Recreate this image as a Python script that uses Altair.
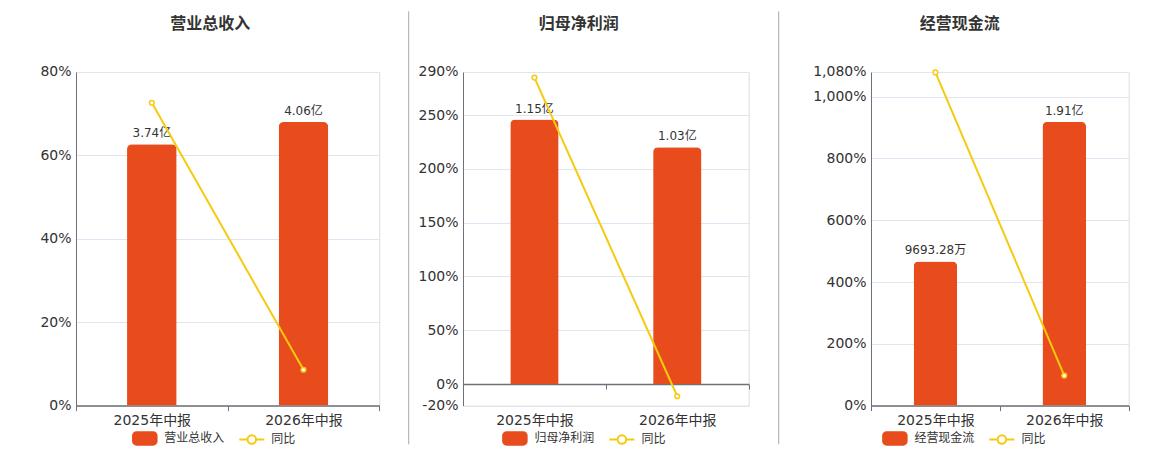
import altair as alt
import pandas as pd

# ---------------- data ----------------
periods = ["2025年中报", "2026年中报"]
titles = ["营业总收入", "归母净利润", "经营现金流"]
bar_values = [[3.74, 4.06], [1.15, 1.03], [0.969328, 1.91]]          # 亿
bar_labels = [["3.74亿", "4.06亿"], ["1.15亿", "1.03亿"], ["9693.28万", "1.91亿"]]
yoy_values = [[72.6, 8.6], [284.8, -11.3], [1078.5, 97.3]]           # %
yoy_ticks = [[0, 20, 40, 60, 80],
             [-20, 0, 50, 100, 150, 200, 250, 290],
             [0, 200, 400, 600, 800, 1000, 1080]]
yoy_name = "同比"

# ---------------- styling / layout ----------------
FONT = "DejaVu Sans, Noto Sans CJK SC, sans-serif"
BAR = "#E84B1C"
GOLD = "#F5CB0F"
AXIS = "#6E7079"
GRID = "#E0E6F1"
TEXT = "#333333"
H = 333.6
panels = [
    dict(width=303.3, bar_domain=[0, 4.776], bar_size=49.6, sep_x=-66.2, sep_color="#FFFFFF",
         title_x=134.3, legend_x=55.3),
    dict(width=285.7, bar_domain=[-0.0936, 1.357], bar_size=48.3, sep_x=-54.3, sep_color="#AAAAAA",
         title_x=115.7, legend_x=38.4),
    dict(width=257.7, bar_domain=[0, 2.244], bar_size=43.6, sep_x=-92.3, sep_color="#AAAAAA",
         title_x=88.7, legend_x=10.4),
]

RECT = ("M-0.66,-0.5H0.66A0.28,0.28,0,0,1,0.94,-0.22V0.22A0.28,0.28,0,0,1,0.66,0.5H-0.66"
        "A0.28,0.28,0,0,1,-0.94,0.22V-0.22A0.28,0.28,0,0,1,-0.66,-0.5Z")
LINESYM = "M-1,0H-0.34M0.34,0H1M0.34,0A0.34,0.34,0,1,1,-0.34,0A0.34,0.34,0,1,1,0.34,0"

one_row = pd.DataFrame({"k": [0]})


def make_panel(i):
    p = panels[i]
    name = titles[i]
    df = pd.DataFrame({
        "period": periods,
        "value": bar_values[i],
        "label": bar_labels[i],
        "yoy": yoy_values[i],
        "series": [name] * len(periods),
    })
    lo, hi = yoy_ticks[i][0], yoy_ticks[i][-1]
    zero_shift = H * (0 - lo) / (hi - lo)

    x = alt.X("period:N", sort=periods,
              scale=alt.Scale(paddingInner=0, paddingOuter=0),
              axis=alt.Axis(title=None, labelAngle=0, offset=-zero_shift,
                            domainColor=AXIS, domainWidth=1.5, tickColor=AXIS,
                            tickSize=5, tickBand="extent", labelPadding=3 + zero_shift,
                            labelFontSize=14, labelColor=TEXT, labelFont=FONT))

    legend = alt.Legend(
        title=None, orient="none", legendX=p["legend_x"], legendY=352.8,
        direction="horizontal", symbolSize=625, symbolStrokeWidth=2, symbolOpacity=1,
        labelFontSize=12, labelColor=TEXT, labelFont=FONT, labelOffset=6, columnPadding=10)
    dom = [name, yoy_name]

    base = alt.Chart(df)
    bar_scale = alt.Scale(domain=p["bar_domain"], nice=False)
    yoy_scale = alt.Scale(domain=[lo, hi], nice=False)

    bars = base.mark_bar(size=p["bar_size"], cornerRadiusTopLeft=5, cornerRadiusTopRight=5,
                         color=BAR).encode(
        x=x,
        y=alt.Y("value:Q", scale=bar_scale, axis=None),
    )
    labels = base.mark_text(dy=-4, baseline="bottom", fontSize=12, color=TEXT, font=FONT).encode(
        x=x,
        y=alt.Y("value:Q", scale=bar_scale, axis=None),
        text="label:N",
    )
    yaxis = alt.Axis(title=None, orient="left", values=yoy_ticks[i], grid=True, gridColor=GRID,
                     ticks=False, domainColor=AXIS, labelFontSize=14, labelColor=TEXT,
                     labelFont=FONT, labelPadding=5,
                     labelExpr="replace(format(datum.value, ','), '\u2212', '-') + '%'")
    line = base.mark_line(color=GOLD, strokeWidth=2).encode(
        x=x,
        y=alt.Y("yoy:Q", scale=yoy_scale, axis=yaxis),
    )
    pts = base.mark_point(shape="circle", filled=True, fill="#FFFFFF", stroke=GOLD,
                          strokeWidth=1.5, size=22, opacity=1).encode(
        x=x,
        y=alt.Y("yoy:Q", scale=yoy_scale, axis=None),
    )
    # legend carrier (draws nothing itself)
    leg = base.transform_filter("false").mark_point(filled=True, opacity=1, strokeWidth=2).encode(
        x=x,
        y=alt.Y("yoy:Q", scale=yoy_scale, axis=None),
        fill=alt.Fill("series:N", scale=alt.Scale(domain=dom, range=[BAR, "#FFFFFF"]), legend=legend),
        stroke=alt.Stroke("series:N", scale=alt.Scale(domain=dom, range=[BAR, GOLD]), legend=legend),
        shape=alt.Shape("series:N", scale=alt.Scale(domain=dom, range=[RECT, LINESYM]), legend=legend),
    )
    sep = alt.Chart(one_row).mark_rule(color=p["sep_color"], strokeWidth=1).encode(
        x=alt.value(p["sep_x"]), y=alt.value(-60.7), y2=alt.value(372.3))
    title = alt.Chart(one_row).mark_text(text=name, fontSize=16, fontWeight="bold", color=TEXT,
                                         font=FONT, align="center", baseline="middle").encode(
        x=alt.value(p["title_x"]), y=alt.value(-47.7))

    return alt.layer(bars, labels, line, pts, leg, sep, title).resolve_scale(y="independent").properties(
        width=p["width"], height=H)


chart = alt.hconcat(*[make_panel(i) for i in range(3)], spacing=27).resolve_scale(
    fill="independent", stroke="independent", shape="independent",
    x="independent", y="independent"
).resolve_legend(fill="independent", stroke="independent", shape="independent").properties(
    padding={"left": 0, "top": 2, "right": 0, "bottom": 0}
).configure_view(stroke=None).configure(font=FONT)

chart.save("out.html", embed_options={"renderer": "svg", "actions": False})
